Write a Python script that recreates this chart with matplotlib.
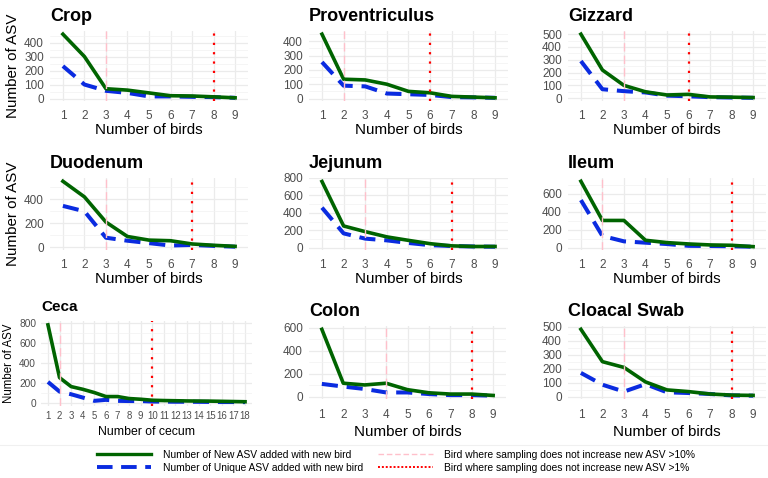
import numpy as np
import matplotlib.pyplot as plt
from matplotlib.lines import Line2D

plt.rcParams['font.family'] = ['Liberation Sans', 'DejaVu Sans']

# ---------------------------------------------------------------- data
birds9 = list(range(1, 10))
cecum18 = list(range(1, 19))

crop_new = [460, 300, 70, 60, 40, 20, 18, 12, 5]
crop_uni = [232, 100, 55, 40, 15, 15, 12, 10, 5]

prov_new = [450, 135, 130, 100, 50, 40, 15, 10, 5]
prov_uni = [255, 90, 85, 35, 30, 25, 10, 8, 5]

gizz_new = [500, 220, 100, 50, 25, 30, 10, 8, 5]
gizz_uni = [290, 70, 55, 45, 20, 15, 8, 5, 3]

duod_new = [550, 420, 210, 90, 60, 55, 28, 17, 8]
duod_uni = [345, 300, 80, 55, 35, 15, 20, 12, 5]

jeju_new = [760, 250, 185, 125, 85, 47, 22, 15, 15]
jeju_uni = [460, 165, 105, 85, 55, 30, 20, 15, 12]

ileum_new = [740, 303, 303, 82, 56, 41, 30, 26, 11]
ileum_uni = [530, 130, 70, 55, 40, 20, 18, 15, 10]

ceca_new = [780, 250, 160, 133, 100, 60, 60, 40, 33, 23, 20, 18, 16, 15, 14, 12, 10, 8]
ceca_uni = [207, 110, 83, 50, 17, 27, 17, 15, 15, 10, 9, 8, 8, 7, 6, 5, 5, 4]

colon_new = [585, 118, 103, 118, 62, 35, 24, 24, 12]
colon_uni = [112, 89, 68, 38, 38, 24, 15, 15, 10]

cloac_new = [480, 250, 209, 106, 49, 37, 20, 12, 10]
cloac_uni = [170, 86, 37, 90, 32, 27, 20, 10, 8]

# name, x, new, unique, >10% bird, >1% bird, y ticks
panels = [
    ("Crop", birds9, crop_new, crop_uni, 3, 8, [0, 100, 200, 300, 400]),
    ("Proventriculus", birds9, prov_new, prov_uni, 2, 6, [0, 100, 200, 300, 400]),
    ("Gizzard", birds9, gizz_new, gizz_uni, 3, 6, [0, 100, 200, 300, 400, 500]),
    ("Duodenum", birds9, duod_new, duod_uni, 3, 7, [0, 200, 400]),
    ("Jejunum", birds9, jeju_new, jeju_uni, 3, 7, [0, 200, 400, 600, 800]),
    ("Ileum", birds9, ileum_new, ileum_uni, 2, 8, [0, 200, 400, 600]),
    ("Ceca", cecum18, ceca_new, ceca_uni, 2, 10, [0, 200, 400, 600, 800]),
    ("Colon", birds9, colon_new, colon_uni, 4, 8, [0, 200, 400, 600]),
    ("Cloacal Swab", birds9, cloac_new, cloac_uni, 3, 8, [0, 100, 200, 300, 400, 500]),
]

# pixel boxes (left, right, top, bottom)
boxes = [
    (50, 248, 31, 101), (309, 508, 31, 101), (568, 766, 31, 101),
    (50, 248, 178, 250), (309, 508, 178, 250), (568, 766, 178, 250),
    (41, 252, 321, 406), (309, 506, 326, 399), (568, 766, 326, 399),
]

W, H = 768, 478
green = "#006400"
blue = "#0a2be0"
fig = plt.figure(figsize=(W / 100, H / 100), dpi=100)

for i, (name, x, new, uni, p10, p1, yt) in enumerate(panels):
    l, r, t, b = boxes[i]
    ax = fig.add_axes([l / W, 1 - b / H, (r - l) / W, (b - t) / H])
    small = name == "Ceca"
    ax.plot(x, uni, color=blue, lw=2.9, dashes=(4, 2.2), zorder=3)
    ax.plot(x, new, color=green, lw=2.6, zorder=4)
    ax.axvline(p10, color="pink", lw=1.0, dashes=(6, 3), zorder=5)
    ax.axvline(p1, color="red", lw=1.6, dashes=(1, 3.2), zorder=5)

    lo = min(min(new), min(uni))
    hi = max(max(new), max(uni))
    pad = 0.05 * (hi - lo)
    ax.set_ylim(lo - pad, hi + pad)
    # discrete x axis: 0.6 units either side
    ax.set_xlim(x[0] - 0.6, x[-1] + 0.6)
    ax.set_xticks(x)
    ax.set_yticks(yt)
    step = yt[1] - yt[0]
    ax.set_yticks(np.arange(yt[0] + step / 2, hi + pad, step), minor=True)

    for s in ax.spines.values():
        s.set_visible(False)
    ax.grid(True, which="major", color="#ebebeb", lw=0.9)
    ax.grid(True, which="minor", axis="y", color="#f2f2f2", lw=0.5)
    ax.set_axisbelow(True)
    if small:
        ax.tick_params(which="both", length=0, colors="#4d4d4d", labelsize=7.3)
        ax.tick_params(axis="x", labelsize=6.9, pad=3.5)
        ax.tick_params(axis="y", pad=3.5)
    else:
        ax.tick_params(which="both", length=0, colors="#4d4d4d", labelsize=8.5)
        ax.tick_params(axis="x", pad=7 if i >= 6 else 6.5)
        ax.tick_params(axis="y", pad=4.4)

    ax.set_title(name, loc="left", fontsize=11 if small else 13, fontweight="bold",
                 pad=7, x=0.0)
    xl = "Number of cecum" if small else "Number of birds"
    if small:
        lp = 3.5
    elif i >= 6:
        lp = 3
    else:
        lp = 0.5
    ax.set_xlabel(xl, fontsize=8.8 if small else 10.9, labelpad=lp)
    if i % 3 == 0:
        ax.set_ylabel("Number of ASV", fontsize=8.3 if small else 10.9, labelpad=3)

# separator and legend
fig.add_artist(Line2D([0, 1], [1 - 445 / H, 1 - 445 / H], color="#f0f0f0", lw=0.8))
handles = [
    Line2D([], [], color=green, lw=2.4),
    Line2D([], [], color=blue, lw=2.8, dashes=(4, 2.2)),
    Line2D([], [], color="pink", lw=1.0, dashes=(4, 2)),
    Line2D([], [], color="red", lw=1.4, dashes=(1, 1)),
]
labels = [
    "Number of New ASV added with new bird",
    "Number of Unique ASV added with new bird",
    "Bird where sampling does not increase new ASV >10%",
    "Bird where sampling does not increase new ASV >1%",
]
fig.legend(handles, labels, ncol=2, loc="upper left",
           bbox_to_anchor=(97 / W, 1 - 450 / H), frameon=False,
           fontsize=7.4, handlelength=5.3, handletextpad=1.1,
           columnspacing=1.5, labelspacing=0.3, borderpad=0, borderaxespad=0)

plt.savefig("out.png", dpi=100)
